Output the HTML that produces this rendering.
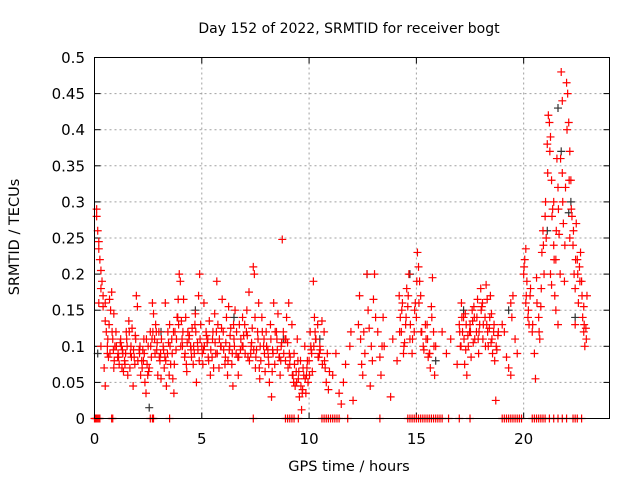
<!DOCTYPE html>
<html><head><meta charset="utf-8"><style>
html,body{margin:0;padding:0;background:#fff;}
svg{display:block;font-family:"DejaVu Sans","Liberation Sans",sans-serif;}
</style></head><body>
<svg id="chart" width="640" height="480" viewBox="0 0 640 480" xmlns="http://www.w3.org/2000/svg">
<rect width="640" height="480" fill="#fff"/>
<text x="349" y="33" font-size="14" text-anchor="middle" fill="#000">Day 152 of 2022, SRMTID for receiver bogt</text>
<text transform="translate(19,237) rotate(-90)" font-size="14.5" text-anchor="middle" fill="#000">SRMTID / TECUs</text>
<text x="349" y="471" font-size="14.5" text-anchor="middle" fill="#000">GPS time / hours</text>
<g id="grid"></g><g id="ticks"></g><g id="marks"></g>
<rect x="94.5" y="57.5" width="515" height="361" fill="none" stroke="#000" stroke-width="1"/>
</svg>
<script>
const xTicks=[0,5,10,15,20];
const yTicks=[0,0.05,0.1,0.15,0.2,0.25,0.3,0.35,0.4,0.45,0.5];
const yTickLabels=["0","0.05","0.1","0.15","0.2","0.25","0.3","0.35","0.4","0.45","0.5"];
const redHours=[0.1,0.1,0.15,0.2,0.2,0.25,0.3,0.35,0.3,0.4,0.4,0.5,0.5,0.55,0.6,0.3,0.45,0.5,0.6,0.7,0.75,0.8,0.9,0.85,0.95,0.2,0.65,0.9,
1.0,1.1,1.15,1.2,1.3,1.35,1.4,1.5,1.55,1.6,1.65,1.7,1.8,1.85,1.9,1.95,2.0,1.75,1.45,1.25,
2.1,2.15,2.2,2.3,2.35,2.4,2.45,2.5,2.6,2.65,2.7,2.75,2.8,2.85,2.9,2.95,2.55,2.25,
3.0,3.05,3.1,3.2,3.25,3.3,3.35,3.4,3.5,3.55,3.6,3.65,3.7,3.8,3.85,3.9,3.95,3.75,3.45,
4.0,4.05,4.1,4.2,4.25,4.3,4.4,4.5,4.55,4.6,4.7,4.75,4.8,4.85,4.9,4.95,4.65,4.35,4.15,
5.0,5.05,5.1,5.2,5.3,5.35,5.4,5.5,5.6,5.65,5.7,5.75,5.8,5.9,5.95,5.25,5.55,
6.0,6.1,6.15,6.2,6.3,6.35,6.4,6.5,6.55,6.6,6.7,6.75,6.8,6.9,6.95,6.45,6.25,
7.0,7.1,7.15,7.2,7.3,7.4,7.45,7.5,7.55,7.6,7.7,7.75,7.8,7.9,7.95,7.35,7.65,
8.0,8.1,8.15,8.2,8.3,8.35,8.4,8.5,8.55,8.6,8.7,8.75,8.8,8.9,8.95,8.25,8.65,
9.0,9.05,9.1,9.2,9.3,9.35,9.4,9.5,9.55,9.6,9.65,9.7,9.75,9.8,9.85,9.9,9.95,9.45,9.25,
10.0,10.05,10.1,10.15,10.2,10.25,10.3,10.4,10.45,10.5,10.6,10.7,10.75,10.8,10.85,10.9,10.95,
11.1,11.25,11.4,11.5,11.6,11.9,11.95,12.05,11.7,
12.3,12.35,12.4,12.5,12.6,12.7,12.75,12.8,12.9,12.95,12.55,12.45,12.85,
13.0,13.05,13.1,13.2,13.3,13.4,13.5,13.8,13.9,13.45,13.35,
14.1,14.2,14.25,14.3,14.35,14.4,14.5,14.55,14.6,14.65,14.7,14.8,14.9,14.95,14.45,
15.0,15.05,15.1,15.15,15.2,15.25,15.35,15.45,15.5,15.6,15.65,15.7,15.75,15.8,15.85,15.9,15.55,
16.2,16.4,16.6,16.9,
17.0,17.05,17.1,17.15,17.2,17.3,17.35,17.4,17.5,17.55,17.6,17.65,17.7,17.8,17.85,17.9,17.95,17.25,
18.0,18.05,18.1,18.2,18.3,18.35,18.4,18.5,18.55,18.6,18.65,18.7,18.75,18.8,18.45,18.25,
19.0,19.1,19.2,19.3,19.4,19.45,19.5,19.6,19.7,19.4,
20.0,20.05,20.1,20.1,20.15,20.2,20.25,20.3,20.4,20.5,20.55,20.6,20.7,20.75,20.8,20.85,20.9,20.95,
21.0,21.05,21.1,21.15,21.2,21.25,21.3,21.35,21.4,21.45,21.5,21.3,21.4,21.55,21.6,21.65,21.7,21.75,21.8,21.8,21.85,21.9,21.95,21.6,21.5,21.25,
22.0,22.05,22.1,22.15,22.2,22.25,22.3,22.35,22.4,22.45,22.5,22.55,22.6,22.65,22.7,22.75,22.8,22.85,22.9,22.95,22.4,22.15,22.8];
const redValues=[.29,.28,.26,.245,.235,.22,.205,.19,.18,.17,.155,.16,.135,.12,.10,.10,.07,.045,.09,.165,.15,.175,.145,.11,.1,.16,.085,.07,
.12,.09,.075,.105,.095,.065,.08,.11,.06,.135,.07,.1,.045,.085,.115,.17,.155,.125,.09,.1,
.09,.06,.08,.11,.05,.035,.075,.1,.12,.085,.16,.145,.11,.13,.095,.06,.07,.095,
.12,.08,.055,.1,.07,.16,.045,.09,.13,.075,.11,.055,.035,.095,.14,.165,.2,.12,.105,
.19,.135,.1,.085,.14,.065,.11,.095,.125,.075,.145,.05,.105,.17,.2,.13,.09,.12,.165,
.1,.075,.16,.12,.085,.135,.06,.11,.145,.09,.19,.13,.07,.1,.165,.105,.07,
.12,.085,.14,.06,.1,.125,.075,.11,.15,.09,.06,.13,.095,.14,.115,.045,.155,
.13,.15,.085,.175,.1,.21,.2,.07,.095,.12,.055,.08,.14,.11,.065,.125,.16,
.12,.085,.05,.13,.095,.16,.075,.11,.145,.085,.1,.248,.12,.08,.14,.03,.06,
.105,.16,.075,.13,.09,.045,.065,.055,.03,.08,.012,.04,.06,.1,.035,.07,.05,.11,.06,
.08,.12,.095,.065,.19,.14,.11,.13,.085,.1,.135,.12,.07,.05,.09,.04,.065,
.06,.09,.035,.02,.05,.1,.12,.025,.075,
.13,.17,.11,.06,.09,.2,.15,.125,.1,.08,.12,.075,.045,
.165,.2,.14,.12,.085,.1,.1,.03,.11,.14,.06,
.08,.17,.14,.12,.16,.09,.13,.18,.155,.2,.11,.09,.12,.16,.105,
.14,.23,.21,.19,.17,.12,.095,.11,.13,.09,.07,.155,.195,.12,.06,.1,.085,
.12,.09,.11,.075,
.13,.1,.16,.12,.14,.095,.06,.115,.13,.085,.15,.105,.14,.12,.165,.09,.13,.075,
.18,.155,.11,.14,.165,.1,.125,.145,.09,.12,.08,.025,.095,.115,.17,.185,
.13,.12,.085,.07,.06,.14,.17,.11,.09,.16,
.2,.22,.235,.16,.19,.14,.13,.17,.12,.09,.055,.195,.14,.11,.155,.23,.26,.2,
.28,.25,.38,.42,.41,.39,.33,.29,.24,.17,.15,.185,.3,.36,.32,.255,.2,.48,.44,.34,.27,.19,.32,.13,.22,.2,
.465,.45,.41,.37,.33,.28,.24,.2,.18,.27,.22,.16,.21,.23,.19,.14,.12,.1,.125,.17,.13,.25,.155];
const extraHours=[0.62,0.72,0.82,0.92,1.02,1.12,1.22,1.32,1.42,1.52,1.62,1.72,1.82,1.92,2.02,2.12,2.22,2.32,2.42,2.52,2.62,2.72,2.82,2.92,3.02,3.12,3.22,3.32,3.42,3.52,3.62,3.72,3.82,3.92,4.02,4.12,4.22,4.32,4.42,4.52,4.62,4.72,4.82,4.92,5.02,5.12,5.22,5.32,5.42,5.52,5.62,5.72,5.82,5.92,6.02,6.12,6.22,6.32,6.42,6.52,6.62,6.72,6.82,6.92,7.02,7.12,7.22,7.32,7.42,7.52,7.62,7.72,7.82,7.92,8.02,8.12,8.22,8.32,8.42,8.52,8.62,8.72,8.82,8.92,9.02,9.12,9.22,9.32,9.42,9.52,9.62,9.72,9.82,9.92,10.02,10.12,10.22,10.32,10.42,10.52,10.62,10.72,
0.68,0.88,1.08,1.28,1.48,1.68,1.88,2.08,2.28,2.48,2.68,2.88,3.08,3.28,3.48,3.68,3.88,4.08,4.28,4.48,4.68,4.88,5.08,5.28,5.48,5.68,5.88,6.08,6.28,6.48,6.68,6.88,7.08,7.28,7.48,7.68,7.88,8.08,8.28,8.48,8.68,8.88,9.08,9.28,9.48,9.68,9.88,10.08,10.28,10.48,
14.22,14.32,14.42,14.52,14.62,14.72,14.82,14.92,15.02,15.12,15.22,15.32,15.42,15.52,15.62,15.72,15.82,
17.02,17.12,17.22,17.32,17.42,17.52,17.62,17.72,17.82,17.92,18.02,18.12,18.22,18.32,18.42,18.52,18.62,18.72,18.82,17.08,17.28,17.48,17.68,17.88,18.08,18.28,18.48,
20.02,20.12,20.22,20.32,20.42,20.62,20.72,20.82,20.92,21.02,21.12,21.22,21.32,21.42,21.52,21.62,21.72,21.82,21.92,22.02,22.12,22.22,22.32,22.42,22.52,22.62,22.72,22.82,22.92];
const extraValues=[.11,.09,.12,.08,.1,.085,.11,.09,.075,.1,.12,.085,.095,.11,.08,.1,.07,.09,.11,.065,.1,.12,.09,.105,.085,.11,.095,.08,.12,.1,.09,.075,.11,.13,.1,.12,.09,.105,.115,.085,.1,.12,.095,.11,.09,.1,.115,.08,.095,.12,.105,.09,.11,.125,.095,.105,.08,.115,.09,.1,.12,.085,.11,.1,.09,.115,.08,.105,.095,.085,.11,.1,.12,.09,.1,.075,.11,.09,.12,.095,.085,.105,.09,.11,.07,.085,.06,.075,.05,.065,.045,.07,.055,.08,.06,.09,.1,.11,.085,.095,.075,.08,
.13,.095,.085,.07,.12,.09,.075,.095,.08,.06,.11,.12,.09,.085,.06,.12,.14,.11,.075,.1,.13,.08,.095,.11,.085,.12,.1,.075,.095,.13,.085,.1,.12,.09,.14,.07,.1,.095,.065,.12,.08,.11,.09,.05,.08,.035,.06,.1,.12,.09,
.12,.15,.1,.14,.17,.13,.11,.15,.19,.16,.12,.1,.13,.11,.09,.14,.1,
.12,.14,.11,.13,.1,.12,.135,.11,.14,.12,.15,.13,.1,.12,.14,.11,.13,.1,.12,.1,.145,.12,.155,.11,.16,.13,.105,
.21,.17,.15,.18,.13,.16,.12,.18,.24,.3,.34,.37,.28,.22,.26,.29,.36,.3,.24,.4,.33,.29,.26,.22,.2,.19,.17,.13,.11];
const blackHours=[0.15,2.55,4.7,6.5,8.8,12.7,14.7,15.9,17.2,19.3,21.6,21.75,22.1,22.2,22.4,21.1,3.1,10.5];
const blackValues=[.09,.015,.15,.14,.11,.2,.2,.08,.15,.15,.43,.37,.285,.3,.14,.26,.12,.11];
const zeroHours=[0,0.05,0.1,0.15,0.2,0.25,0.8,0.85,2.6,2.7,2.75,3.5,7.4,8.9,9.0,9.1,9.2,9.3,9.5,10.6,10.7,10.8,10.9,11.0,11.1,11.2,11.3,11.4,11.8,13.3,14.6,14.7,14.8,14.9,15.0,15.1,15.2,15.3,15.4,15.5,15.6,15.7,15.8,15.9,16.0,16.1,16.2,16.5,17.0,17.5,19.0,19.1,19.2,19.3,19.4,19.5,19.6,19.7,19.8,19.9,20.4,20.5,20.6,20.7,20.8,20.9,21.0,21.2,21.4,21.6,21.8,22.0,22.3,22.4,22.5,22.7];
const NS="http://www.w3.org/2000/svg";
const X0=94.5,X1=609.5,Y0=418.5,Y1=57.5;
function xs(h){return X0+(h/24)*(X1-X0);}
function ys(v){return Y0-(v/0.5)*(Y0-Y1);}
function mk(tag,attrs,parent){const e=document.createElementNS(NS,tag);for(const k in attrs)e.setAttribute(k,attrs[k]);parent.appendChild(e);return e;}
const grid=document.getElementById('grid'),ticks=document.getElementById('ticks'),marks=document.getElementById('marks');
yTicks.forEach((t,i)=>{
 if(i>0&&i<yTicks.length-1){const g=mk('line',{x1:X0,x2:X1,y1:ys(t),y2:ys(t),stroke:'#a0a0a0','stroke-dasharray':'2,3','stroke-width':1},grid);
 
 }
 const a=mk('line',{x1:X0,x2:X0+6,y1:ys(t),y2:ys(t),stroke:'#000'},ticks);
 
 
 const b=mk('line',{x1:X1-6,x2:X1,y1:ys(t),y2:ys(t),stroke:'#000'},ticks);
 
 
 const l=mk('text',{x:85,y:ys(t)+5.5,'font-size':15,'text-anchor':'end',fill:'#000'},ticks);l.textContent=yTickLabels[i];
 
 
});
xTicks.forEach(t=>{
 if(t>0){const g=mk('line',{x1:xs(t),x2:xs(t),y1:Y1,y2:Y0,stroke:'#a0a0a0','stroke-dasharray':'2,3'},grid);
 
 }
 const a=mk('line',{x1:xs(t),x2:xs(t),y1:Y0,y2:Y0-6,stroke:'#000'},ticks);
 
 
 const b=mk('line',{x1:xs(t),x2:xs(t),y1:Y1,y2:Y1+6,stroke:'#000'},ticks);
 
 
 const l=mk('text',{x:xs(t),y:444,'font-size':15,'text-anchor':'middle',fill:'#000'},ticks);l.textContent=String(t);
 
 
});
function plus(h,v,color,name){const x=xs(h),y=ys(v);
 const p=mk('path',{d:`M${x-4},${y}H${x+4}M${x},${y-4}V${y+4}`,stroke:color,'stroke-width':1.2,fill:'none'},marks);
 
 }
blackHours.forEach((h,i)=>plus(h,blackValues[i],'#333','point-black'));
redHours.forEach((h,i)=>plus(h,redValues[i],'#ff0000','point-red'));
extraHours.forEach((h,i)=>plus(h,extraValues[i],'#ff0000','point-red'));
zeroHours.forEach(h=>plus(h,0,'#ff0000','point-zero'));
</script>
</body></html>
